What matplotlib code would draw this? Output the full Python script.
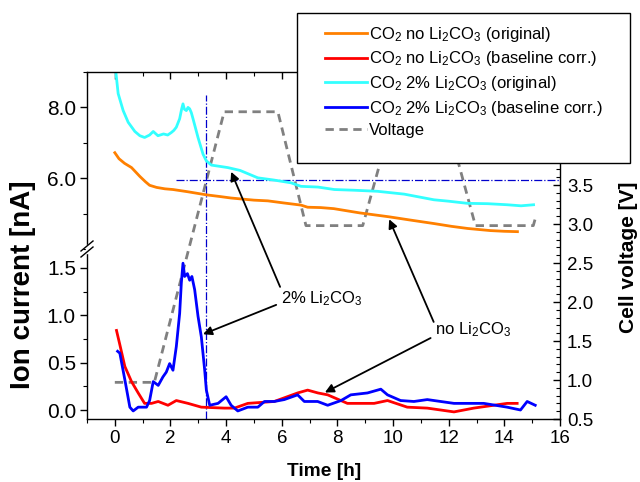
import matplotlib
matplotlib.use("Agg")
import matplotlib.pyplot as plt
from matplotlib.ticker import MultipleLocator, FuncFormatter
from matplotlib.lines import Line2D
from matplotlib.patches import Rectangle

plt.rcParams['font.family'] = ['Liberation Sans', 'DejaVu Sans']
plt.rcParams['mathtext.fontset'] = 'custom'
plt.rcParams['mathtext.rm'] = 'Liberation Sans'
plt.rcParams['mathtext.it'] = 'Liberation Sans:italic'
plt.rcParams['mathtext.bf'] = 'Liberation Sans:bold'
plt.rcParams['mathtext.default'] = 'regular'

# ---------------- data ----------------
# CO2 signal without Li2CO3, original trace [nA]
t_no_orig = [0.0, 0.15, 0.35, 0.6, 0.9, 1.1, 1.25, 1.5, 1.8, 2.09, 2.6, 3.29, 3.8,
             4.18, 5.0, 5.5, 6.08, 6.69, 6.93, 7.4, 7.87, 8.8, 9.85, 10.6, 11.46,
             12.1, 12.68, 13.5, 14.0, 14.47]
i_no_orig = [6.72, 6.55, 6.42, 6.3, 6.05, 5.9, 5.8, 5.74, 5.7, 5.68, 5.62, 5.53, 5.48,
             5.44, 5.38, 5.36, 5.3, 5.24, 5.18, 5.17, 5.14, 5.02, 4.91, 4.82, 4.72,
             4.64, 4.58, 4.52, 4.5, 4.49]

# CO2 signal with 2% Li2CO3, original trace [nA]
t_2p_orig = [0.0, 0.05, 0.12, 0.3, 0.48, 0.72, 0.9, 1.07, 1.25, 1.38, 1.55, 1.75, 1.9,
             2.03, 2.12, 2.21, 2.33, 2.4, 2.45, 2.5, 2.57, 2.63, 2.69, 2.75, 2.81,
             2.99, 3.17, 3.29, 3.47, 4.06, 4.5, 5.14, 5.7, 6.33, 6.69, 7.3, 7.89,
             8.6, 9.44, 10.4, 11.47, 12.0, 12.67, 13.4, 14.1, 14.6, 15.05]
i_2p_orig = [9.3, 8.9, 8.39, 7.91, 7.58, 7.32, 7.2, 7.15, 7.22, 7.32, 7.2, 7.25, 7.22,
             7.29, 7.35, 7.44, 7.68, 7.95, 8.1, 7.95, 7.91, 8.0, 7.96, 7.85, 7.68,
             7.15, 6.68, 6.49, 6.37, 6.3, 6.22, 6.01, 5.95, 5.87, 5.77, 5.75, 5.68,
             5.66, 5.63, 5.55, 5.39, 5.35, 5.29, 5.28, 5.25, 5.22, 5.25]

# CO2 signal without Li2CO3, baseline corrected [nA]
t_no_corr = [0.06, 0.18, 0.36, 0.6, 0.84, 1.07, 1.32, 1.56, 1.91, 2.21, 2.63, 3.11,
             3.94, 4.3, 4.78, 5.73, 6.57, 6.93, 7.3, 7.65, 8.36, 9.32, 9.8, 10.51,
             11.23, 12.19, 12.9, 13.62, 14.1, 14.46]
i_no_corr = [0.84, 0.69, 0.46, 0.3, 0.18, 0.07, 0.07, 0.09, 0.05, 0.1, 0.07, 0.03,
             0.02, 0.02, 0.07, 0.09, 0.18, 0.21, 0.18, 0.16, 0.07, 0.07, 0.1, 0.03,
             0.02, -0.02, 0.02, 0.05, 0.07, 0.07]

# CO2 signal with 2% Li2CO3, baseline corrected [nA]
t_2p_corr = [0.1, 0.18, 0.36, 0.54, 0.66, 0.84, 1.14, 1.25, 1.38, 1.56, 1.73, 1.85,
             1.97, 2.09, 2.21, 2.33, 2.39, 2.45, 2.51, 2.61, 2.69, 2.77, 2.87, 2.99,
             3.11, 3.23, 3.29, 3.41, 3.71, 4.0, 4.18, 4.42, 4.78, 5.14, 5.38, 5.73,
             6.09, 6.57, 6.81, 7.29, 7.65, 8.13, 8.48, 9.08, 9.56, 9.8, 10.27, 10.75,
             11.23, 12.19, 13.26, 14.1, 14.58, 14.82, 15.11]
i_2p_corr = [0.62, 0.6, 0.32, 0.03, -0.01, 0.03, 0.03, 0.1, 0.3, 0.26, 0.35, 0.4,
             0.49, 0.42, 0.67, 1.02, 1.34, 1.55, 1.41, 1.44, 1.37, 1.41, 1.27, 0.99,
             0.77, 0.42, 0.21, 0.05, 0.07, 0.14, 0.05, -0.01, 0.03, 0.03, 0.09, 0.09,
             0.11, 0.16, 0.09, 0.09, 0.05, 0.1, 0.16, 0.18, 0.22, 0.16, 0.1, 0.09,
             0.11, 0.07, 0.07, 0.03, 0.0, 0.09, 0.05]

# Cell voltage profile [V]
t_volt = [0.0, 1.42, 3.93, 5.86, 6.87, 8.91, 10.04, 11.85, 12.96, 15.04, 15.15]
v_volt = [0.97, 0.97, 4.44, 4.44, 2.98, 2.98, 4.44, 4.44, 2.98, 2.98, 3.12]

# Marker for the onset point (time [h], voltage [V])
t_mark, v_mark, v_mark_top = 3.29, 3.56, 4.65

x_ticks = [0, 2, 4, 6, 8, 10, 12, 14, 16]

# ---------------- colours ----------------
c_orange = '#ff8000'
c_red = '#ff0000'
c_cyan = '#33ffff'
c_blue = '#0000ff'
c_volt = '#808080'

# ---------------- layout ----------------
W, H = 640, 482
fig = plt.figure(figsize=(W / 100, H / 100), dpi=100)


def rect(x0, y0, x1, y1):
    return [x0 / W, 1 - y1 / H, (x1 - x0) / W, (y1 - y0) / H]


L, R, T, B, BRK = 87, 560, 72, 419, 249
ax_v = fig.add_axes(rect(L, T, R, B))
ax_lo = fig.add_axes(rect(L, BRK, R, B))
ax_up = fig.add_axes(rect(L, T, R, BRK))
for a in (ax_lo, ax_up):
    a.set_facecolor('none')

xlim = (-1, 16)
lw_spine = 1.0
fmt1 = FuncFormatter(lambda v, p: f'{v:.1f}')

# voltage axis (right)
ax_v.plot(t_volt, v_volt, color=c_volt, lw=2.0, ls=(0, (3, 2)))
ax_v.plot([t_mark, t_mark], [0.5, v_mark_top], color='#0000cc', lw=0.9, ls='-.')
ax_v.plot([2.2, 16], [v_mark, v_mark], color='#0000cc', lw=0.9, ls='-.')
ax_v.set_xlim(*xlim)
ax_v.set_ylim(0.5, 4.95)
for s in ('left', 'top', 'bottom'):
    ax_v.spines[s].set_visible(False)
ax_v.spines['right'].set_linewidth(lw_spine)
ax_v.set_xticks([])
ax_v.yaxis.tick_right()
ax_v.set_yticks([0.5, 1.0, 1.5, 2.0, 2.5, 3.0, 3.5, 4.0, 4.5])
ax_v.yaxis.set_minor_locator(MultipleLocator(0.1))
ax_v.tick_params(axis='y', which='major', direction='in', length=5, width=1,
                 labelsize=13.5, pad=5)
ax_v.tick_params(axis='y', which='minor', direction='in', length=3, width=0.8)
# labels above 3.5 V sit under the legend box
ax_v.yaxis.set_major_formatter(FuncFormatter(lambda v, p: f'{v:.1f}' if v < 3.8 else ''))

# lower ion-current panel
ax_lo.plot(t_no_corr, i_no_corr, color=c_red, lw=2.0)
ax_lo.plot(t_2p_corr, i_2p_corr, color=c_blue, lw=2.0)
ax_lo.set_xlim(*xlim)
ax_lo.set_ylim(-0.095, 1.70)
ax_lo.spines['top'].set_visible(False)
ax_lo.spines['right'].set_visible(False)
for s in ('left', 'bottom'):
    ax_lo.spines[s].set_linewidth(lw_spine)
ax_lo.set_xticks(x_ticks)
ax_lo.xaxis.set_minor_locator(MultipleLocator(1))
ax_lo.yaxis.set_major_locator(MultipleLocator(0.5))
ax_lo.yaxis.set_minor_locator(MultipleLocator(0.25))
ax_lo.yaxis.set_major_formatter(fmt1)
ax_lo.tick_params(which='major', direction='out', length=5, width=1, pad=3)
ax_lo.tick_params(which='minor', direction='out', length=3, width=0.8)
ax_lo.tick_params(axis='x', labelsize=13.5)
ax_lo.tick_params(axis='y', labelsize=15)

# upper ion-current panel
ax_up.plot(t_no_orig, i_no_orig, color=c_orange, lw=2.0)
ax_up.plot(t_2p_orig, i_2p_orig, color=c_cyan, lw=2.0)
ax_up.set_xlim(*xlim)
ax_up.set_ylim(4.0, 9.0)
ax_up.spines['bottom'].set_visible(False)
ax_up.spines['right'].set_visible(False)
for s in ('left', 'top'):
    ax_up.spines[s].set_linewidth(lw_spine)
ax_up.xaxis.tick_top()
ax_up.set_xticks(x_ticks)
ax_up.xaxis.set_minor_locator(MultipleLocator(1))
ax_up.tick_params(axis='x', which='both', labeltop=False)
ax_up.tick_params(axis='x', which='major', direction='in', length=5, width=1)
ax_up.tick_params(axis='x', which='minor', direction='in', length=3, width=0.8)
ax_up.set_yticks([6.0, 8.0])
ax_up.yaxis.set_minor_locator(MultipleLocator(1))
ax_up.yaxis.set_major_formatter(fmt1)
ax_up.tick_params(axis='y', which='major', direction='out', length=5, width=1,
                  labelsize=15, pad=3)
ax_up.tick_params(axis='y', which='minor', direction='out', length=3, width=0.8)

# axis break on the left spine
fig.add_artist(Rectangle(((L - 1) / W, 1 - (BRK + 4) / H), 3 / W, 8 / H,
                         transform=fig.transFigure, color='white', zorder=10))
for dy in (-3, 3):
    fig.add_artist(Line2D([(L - 6) / W, (L + 6) / W],
                          [1 - (BRK + dy + 5) / H, 1 - (BRK + dy - 5) / H],
                          transform=fig.transFigure, color='k', lw=1.0, zorder=11))

# axis labels
fig.text(324 / W, 1 - 472 / H, 'Time [h]', ha='center', va='center',
         fontsize=13.8, fontweight='bold')
fig.text(23 / W, 1 - 285 / H, 'Ion current [nA]', ha='center', va='center',
         rotation=90, fontsize=20, fontweight='bold')
fig.text(629 / W, 1 - 257 / H, 'Cell voltage [V]', ha='center', va='center',
         rotation=90, fontsize=15, fontweight='bold')

# annotations
arrow = dict(arrowstyle='-|>', color='k', lw=1.3, mutation_scale=13,
             shrinkA=0, shrinkB=0)
ax_lo.text(7.44, 1.18, r'2% Li$_2$CO$_3$', ha='center', va='center', fontsize=12)
ax_lo.text(12.89, 0.845, r'no Li$_2$CO$_3$', ha='center', va='center', fontsize=12)
ax_up.annotate('', xy=(4.18, 6.18), xycoords=ax_up.transData,
               xytext=(5.94, 1.30), textcoords=ax_lo.transData,
               arrowprops=arrow, annotation_clip=False)
ax_lo.annotate('', xy=(3.17, 0.80), xytext=(5.80, 1.11),
               arrowprops=arrow, annotation_clip=False)
ax_up.annotate('', xy=(9.86, 4.84), xycoords=ax_up.transData,
               xytext=(11.46, 0.93), textcoords=ax_lo.transData,
               arrowprops=arrow, annotation_clip=False)
ax_lo.annotate('', xy=(7.55, 0.185), xytext=(11.35, 0.76),
               arrowprops=arrow, annotation_clip=False)

# legend: white framed box with the entries inside
fig.add_artist(Rectangle((297 / W, 1 - 163 / H), 333 / W, 150 / H,
                         transform=fig.transFigure, facecolor='white',
                         edgecolor='k', lw=1.0, zorder=19))
handles = [
    Line2D([], [], color=c_orange, lw=2.0),
    Line2D([], [], color=c_red, lw=2.0),
    Line2D([], [], color=c_cyan, lw=2.0),
    Line2D([], [], color=c_blue, lw=2.0),
    Line2D([], [], color=c_volt, lw=2.0, ls=(0, (3, 2))),
]
labels = [
    r'CO$_2$ no Li$_2$CO$_3$ (original)',
    r'CO$_2$ no Li$_2$CO$_3$ (baseline corr.)',
    r'CO$_2$ 2% Li$_2$CO$_3$ (original)',
    r'CO$_2$ 2% Li$_2$CO$_3$ (baseline corr.)',
    'Voltage',
]
leg = fig.legend(handles, labels, loc='upper left',
                 bbox_to_anchor=(325 / W, 1 - 25 / H), bbox_transform=fig.transFigure,
                 frameon=False, fontsize=12, handlelength=2.5, handletextpad=0.15,
                 labelspacing=0.33, borderpad=0, borderaxespad=0)
leg.set_zorder(20)

fig.savefig('out.png', dpi=100)
